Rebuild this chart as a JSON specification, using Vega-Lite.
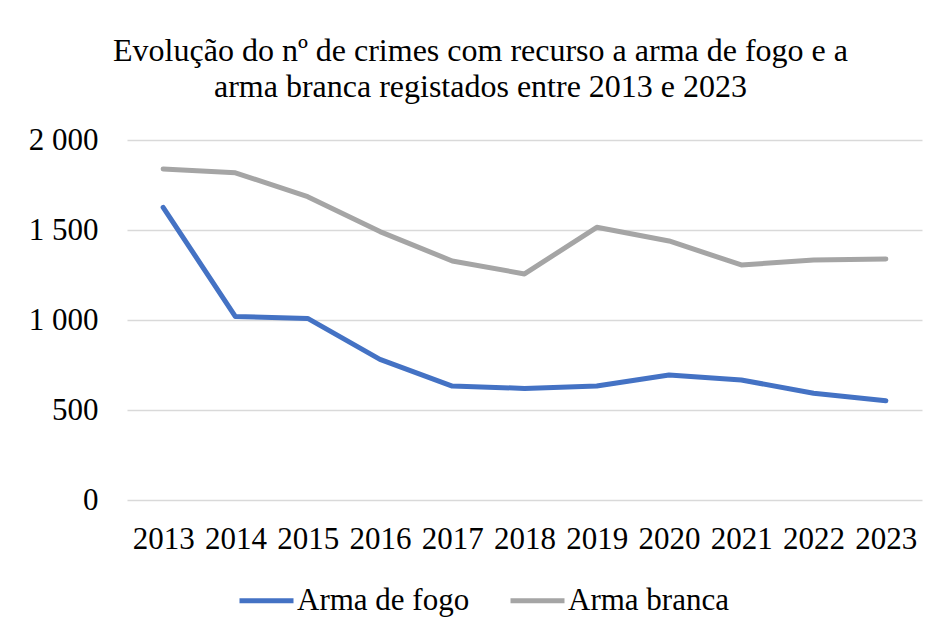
{
  "$schema": "https://vega.github.io/schema/vega-lite/v6.json",
  "width": 795,
  "height": 360,
  "autosize": {"type": "none"},
  "padding": {"left": 127, "top": 140, "right": 17, "bottom": 131},
  "background": "white",
  "title": {
    "text": ["Evolução do nº de crimes com recurso a arma de fogo e a", "arma branca registados entre 2013 e 2023"],
    "font": "'Liberation Serif', 'Times New Roman', serif",
    "fontSize": 32,
    "fontWeight": "normal",
    "color": "#000000",
    "lineHeight": 36,
    "anchor": "middle",
    "dx": -44,
    "offset": 20
  },
  "data": {
    "values": [
      {"ano": "2013", "tipo": "Arma de fogo", "crimes": 1626},
      {"ano": "2014", "tipo": "Arma de fogo", "crimes": 1019},
      {"ano": "2015", "tipo": "Arma de fogo", "crimes": 1009},
      {"ano": "2016", "tipo": "Arma de fogo", "crimes": 781},
      {"ano": "2017", "tipo": "Arma de fogo", "crimes": 633},
      {"ano": "2018", "tipo": "Arma de fogo", "crimes": 620},
      {"ano": "2019", "tipo": "Arma de fogo", "crimes": 633},
      {"ano": "2020", "tipo": "Arma de fogo", "crimes": 694},
      {"ano": "2021", "tipo": "Arma de fogo", "crimes": 667},
      {"ano": "2022", "tipo": "Arma de fogo", "crimes": 593},
      {"ano": "2023", "tipo": "Arma de fogo", "crimes": 552},
      {"ano": "2013", "tipo": "Arma branca", "crimes": 1839},
      {"ano": "2014", "tipo": "Arma branca", "crimes": 1818},
      {"ano": "2015", "tipo": "Arma branca", "crimes": 1685},
      {"ano": "2016", "tipo": "Arma branca", "crimes": 1491},
      {"ano": "2017", "tipo": "Arma branca", "crimes": 1328},
      {"ano": "2018", "tipo": "Arma branca", "crimes": 1256},
      {"ano": "2019", "tipo": "Arma branca", "crimes": 1515},
      {"ano": "2020", "tipo": "Arma branca", "crimes": 1439},
      {"ano": "2021", "tipo": "Arma branca", "crimes": 1306},
      {"ano": "2022", "tipo": "Arma branca", "crimes": 1333},
      {"ano": "2023", "tipo": "Arma branca", "crimes": 1339}
    ]
  },
  "mark": {"type": "line", "strokeWidth": 5, "strokeCap": "round", "strokeJoin": "round"},
  "encoding": {
    "x": {
      "field": "ano",
      "type": "ordinal",
      "scale": {"type": "point", "padding": 0.5},
      "axis": {
        "title": null,
        "labelAngle": 0,
        "domain": false,
        "ticks": false,
        "grid": false,
        "labelPadding": 24,
        "labelFont": "'Liberation Serif', 'Times New Roman', serif",
        "labelFontSize": 31,
        "labelColor": "#000000"
      }
    },
    "y": {
      "field": "crimes",
      "type": "quantitative",
      "scale": {"domain": [0, 2000], "nice": false},
      "axis": {
        "title": null,
        "values": [0, 500, 1000, 1500, 2000],
        "format": ",d",
        "labelExpr": "replace(datum.label, ',', ' ')",
        "domain": false,
        "ticks": false,
        "grid": true,
        "gridColor": "#D9D9D9",
        "gridWidth": 1.5,
        "labelPadding": 29,
        "labelFont": "'Liberation Serif', 'Times New Roman', serif",
        "labelFontSize": 31,
        "labelColor": "#000000"
      }
    },
    "color": {
      "field": "tipo",
      "type": "nominal",
      "sort": ["Arma de fogo", "Arma branca"],
      "scale": {"domain": ["Arma de fogo", "Arma branca"], "range": ["#4472C4", "#A5A5A5"]},
      "legend": {
        "title": null,
        "orient": "none",
        "legendX": 110,
        "legendY": 431,
        "direction": "horizontal",
        "symbolType": "stroke",
        "symbolSize": 2916,
        "symbolStrokeWidth": 5,
        "labelFont": "'Liberation Serif', 'Times New Roman', serif",
        "labelFontSize": 31,
        "labelColor": "#000000",
        "labelOffset": 1,
        "labelLimit": 400,
        "columnPadding": 30
      }
    }
  },
  "config": {
    "font": "'Liberation Serif', 'Times New Roman', serif",
    "view": {"stroke": null}
  }
}
